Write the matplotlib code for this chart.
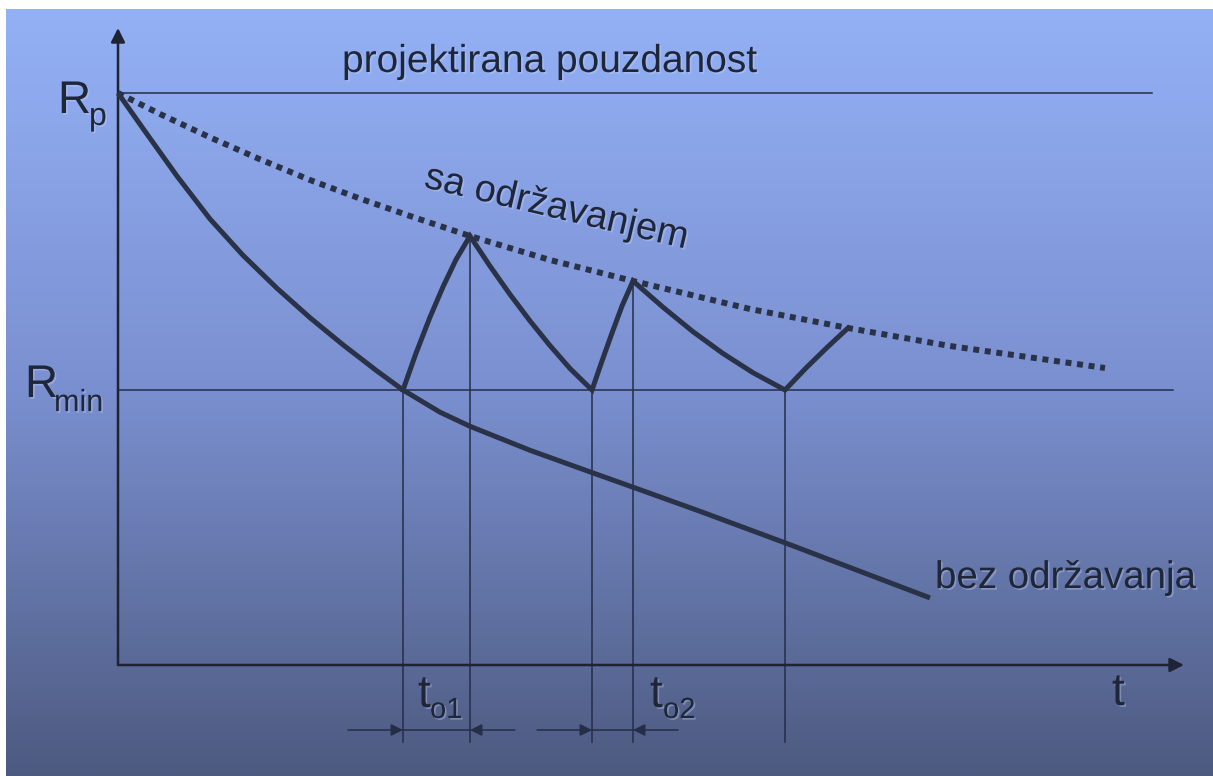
import numpy as np
import matplotlib
matplotlib.use("Agg")
import matplotlib.pyplot as plt
import matplotlib.patheffects as pe

# --- data (t and R in arbitrary units) ---
R_p = 5.72
R_min = 2.75

# without maintenance
t_bez = [0.0, 0.25, 0.59, 0.92, 1.25, 1.59, 1.92, 2.25, 2.59, 2.85,
         3.22, 3.52, 4.12, 4.74, 5.15, 5.82, 6.67, 7.42, 8.12]
R_bez = [5.72, 5.365, 4.889, 4.46, 4.097, 3.767, 3.473, 3.202, 2.94, 2.75,
         2.528, 2.387, 2.147, 1.924, 1.778, 1.537, 1.222, 0.937, 0.671]

# envelope with maintenance (dotted)
t_sa = [0.0, 0.42, 0.92, 1.42, 1.92, 2.42, 2.92, 3.52, 4.32, 5.15, 6.32, 7.30, 8.32, 9.87]
R_sa = [5.72, 5.51, 5.276, 5.057, 4.85, 4.664, 4.49, 4.29, 4.05, 3.84, 3.56, 3.37, 3.19, 2.97]

# sawtooth with maintenance actions
t_saw = [2.85, 2.98, 3.12, 3.25, 3.38, 3.52,
         3.72, 3.92, 4.12, 4.32, 4.52, 4.74,
         4.84, 4.94, 5.04, 5.15,
         5.45, 5.75, 6.05, 6.35, 6.67,
         6.88, 7.09, 7.30]
R_saw = [2.75, 3.118, 3.479, 3.782, 4.054, 4.29,
         3.989, 3.706, 3.441, 3.194, 2.965, 2.75,
         3.04, 3.32, 3.59, 3.84,
         3.578, 3.333, 3.115, 2.923, 2.75,
         2.97, 3.175, 3.37]

# vertical markers (t, top R)
t_marks = [2.85, 3.52, 4.74, 5.15, 6.67]
R_marks = [2.75, 4.29, 2.75, 3.84, 2.75]
R_mark_bottom = -0.77

# maintenance durations
t_o1 = (2.85, 3.52)
t_o2 = (4.74, 5.15)
R_dim = -0.65

fig = plt.figure(figsize=(12.13, 7.76), dpi=100)
fig.patch.set_facecolor("white")
ax = fig.add_axes([0, 0, 1, 1])
ax.set_xlim(-1.18, 10.95)
ax.set_ylim(-1.11, 6.65)
ax.axis("off")

# background gradient
stops_y = np.array([0.0, 0.5, 1.0])
stops_c = np.array([[148, 177, 246], [122, 143, 207], [77, 90, 128]]) / 255.0
yy = np.linspace(0, 1, 256)
grad = np.stack([np.interp(yy, stops_y, stops_c[:, k]) for k in range(3)], axis=1)
grad = np.repeat(grad[:, None, :], 2, axis=1)
ax.imshow(grad, extent=(-1.12, 10.95, -1.11, 6.56), aspect="auto",
          origin="upper", zorder=0, interpolation="bilinear")

line_c = "#2a3248"
thin_c = "#252e48"
axis_c = "#1e2434"
text_c = "#1f2638"

# axes arrows
ax.annotate("", xy=(0, 6.37), xytext=(0, 0),
            arrowprops=dict(arrowstyle="-|>", color=axis_c, lw=1.8,
                            mutation_scale=21, shrinkA=0, shrinkB=0), zorder=3)
ax.annotate("", xy=(10.66, 0), xytext=(0, 0),
            arrowprops=dict(arrowstyle="-|>", color=axis_c, lw=1.8,
                            mutation_scale=21, shrinkA=0, shrinkB=0), zorder=3)

# reference levels
ax.plot([0, 10.34], [R_p, R_p], color=thin_c, lw=1.1, zorder=2)
ax.plot([0, 10.55], [R_min, R_min], color=thin_c, lw=1.1, zorder=2)

# vertical markers
for t, r in zip(t_marks, R_marks):
    ax.plot([t, t], [R_mark_bottom, r], color=thin_c, lw=1.1, zorder=2)

# dimension arrows
for a, b in (t_o1, t_o2):
    ax.annotate("", xy=(a, R_dim), xytext=(a - 0.55, R_dim),
                arrowprops=dict(arrowstyle="-|>", color=thin_c, lw=1.1,
                                mutation_scale=18, shrinkA=0, shrinkB=0))
    ax.annotate("", xy=(b, R_dim), xytext=(b + 0.45, R_dim),
                arrowprops=dict(arrowstyle="-|>", color=thin_c, lw=1.1,
                                mutation_scale=18, shrinkA=0, shrinkB=0))
    ax.plot([a, b], [R_dim, R_dim], color=thin_c, lw=1.1)

# curves
ax.plot(t_bez, R_bez, color=line_c, lw=3.6, solid_capstyle="butt",
        solid_joinstyle="round", zorder=4)
ax.plot(t_sa, R_sa, color=line_c, lw=4.3, linestyle=(0, (1, 0.95)),
        dash_capstyle="butt", zorder=4)
ax.plot(t_saw, R_saw, color=line_c, lw=3.6, solid_joinstyle="miter", zorder=4)

# texts
shadow = [pe.withSimplePatchShadow(offset=(1.2, -1.2), shadow_rgbFace="#c8d4ff", alpha=0.35)]
fam = "Liberation Sans"
kw = dict(family=fam, color=text_c, path_effects=shadow, va="baseline", ha="left")

ax.text(2.24, 5.93, "projektirana pouzdanost", fontsize=28, **kw)
ax.text(3.05, 4.78, "sa održavanjem", fontsize=27.5, rotation=-13.2,
        rotation_mode="anchor", **kw)
ax.text(8.17, 0.77, "bez održavanja", fontsize=27.7, **kw)

ax.text(-0.60, 5.52, "R", fontsize=33, **kw)
ax.text(-0.29, 5.40, "p", fontsize=23, **kw)
ax.text(-0.93, 2.68, "R", fontsize=33, **kw)
ax.text(-0.64, 2.54, "min", fontsize=22, **kw)

ax.text(9.94, -0.40, "t", fontsize=33, **kw)
ax.text(3.00, -0.42, "t", fontsize=33, **kw)
ax.text(3.12, -0.53, "o1", fontsize=21, **kw)
ax.text(5.32, -0.42, "t", fontsize=33, **kw)
ax.text(5.45, -0.53, "o2", fontsize=21, **kw)

fig.savefig("out.png", dpi=100, facecolor=fig.get_facecolor())
